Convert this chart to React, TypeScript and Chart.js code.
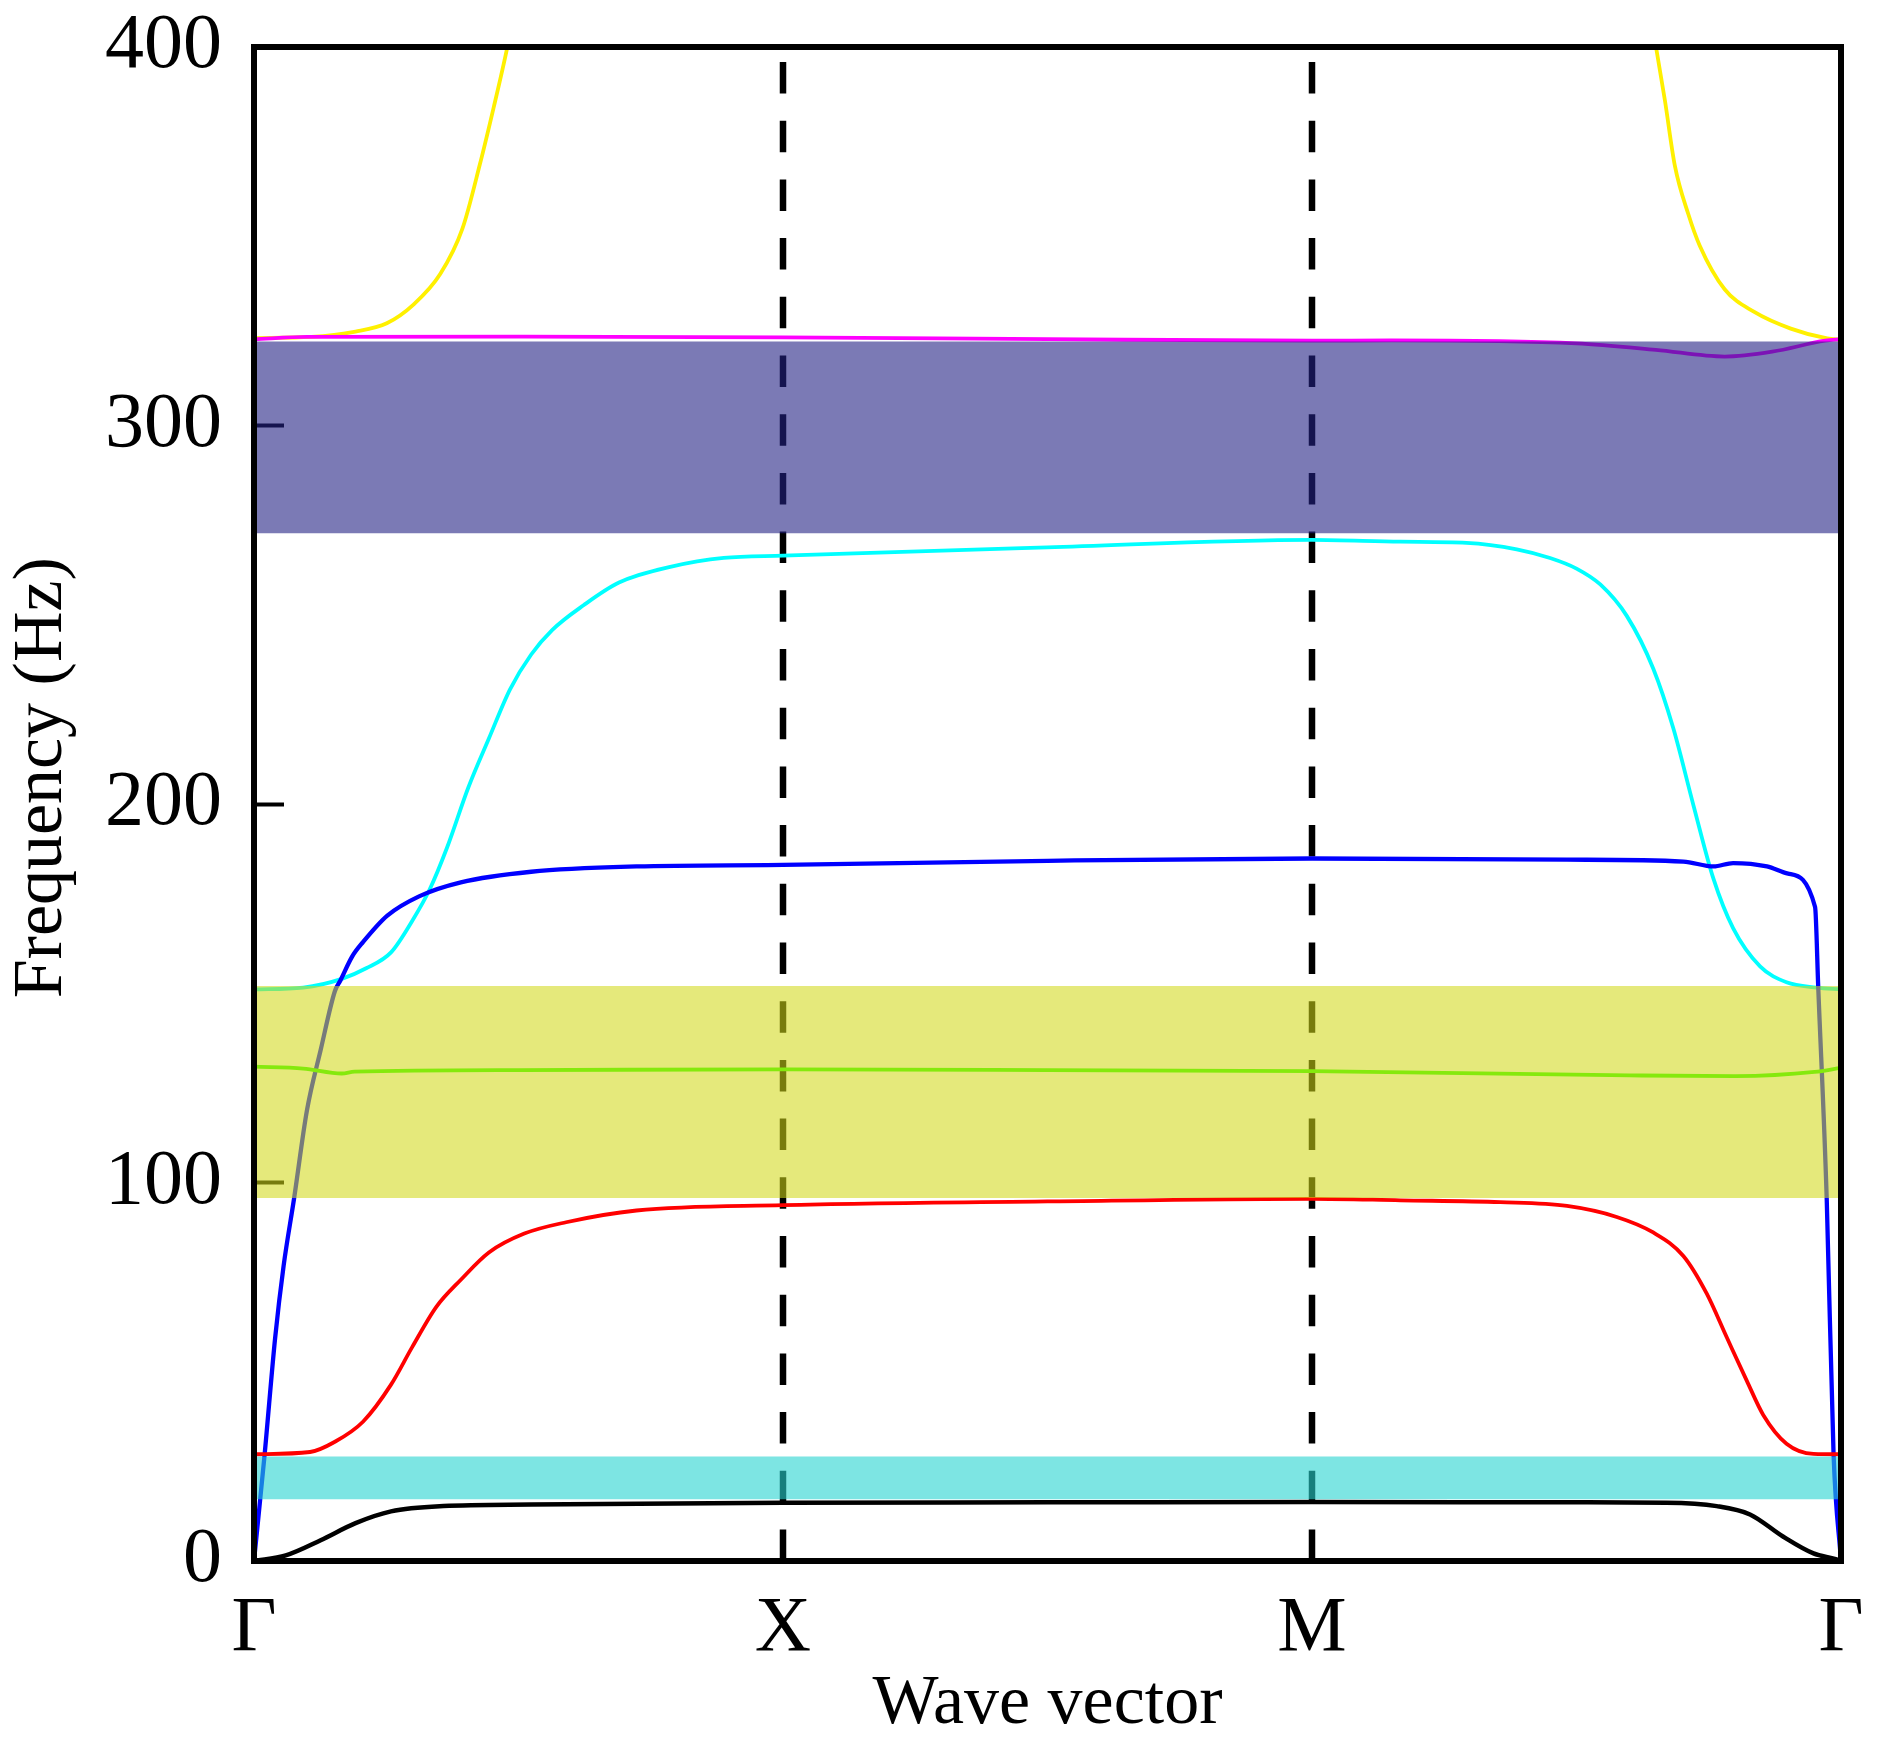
import { useEffect, useRef } from "react"
import { Chart, registerables } from "chart.js"

Chart.register(...registerables)

// high-symmetry points along the path, x = 0..3
const kTickLabels = ["Γ", "X", "M", "Γ"]
const kLines = [1, 2]

// band gaps (Hz)
const bandLow = [16.3, 95.9, 271.5]
const bandHigh = [27.6, 151.9, 322.2]
const bandColors = ["rgba(38, 212, 208, 0.6)", "rgba(210, 216, 23, 0.57)", "rgba(35, 33, 132, 0.6)"]

// dispersion branches
const kBlack = [0, 0.06, 0.126, 0.192, 0.259, 0.358, 0.524, 1.0, 1.5, 2.0, 2.5, 2.67, 2.765, 2.828, 2.891, 2.948, 2.99, 3.0]
const fBlack = [0, 1.5, 5.5, 10, 13.1, 14.5, 14.9, 15.4, 15.5, 15.6, 15.5, 15.4, 14.5, 12.3, 6.4, 2.0, 0.5, 0]

const kRed = [0, 0.106, 0.153, 0.206, 0.259, 0.299, 0.345, 0.391, 0.444, 0.511, 0.59, 0.723, 1.0, 1.5, 2.0, 2.167, 2.356, 2.482, 2.576, 2.645, 2.702, 2.746, 2.784, 2.822, 2.853, 2.897, 2.948, 3.0]
const fRed = [28.2, 28.8, 31.5, 36.8, 46.6, 56.5, 67.2, 74.3, 81.5, 86.5, 89.5, 92.6, 94.0, 95.0, 95.7, 95.3, 94.8, 93.8, 90.9, 86.8, 80.6, 70.7, 59.1, 47.6, 38.6, 31.0, 28.3, 28.2]

const kGreen = [0, 0.093, 0.166, 0.19, 0.5, 1.0, 1.5, 2.0, 2.6, 2.8, 2.95, 3.0]
const fGreen = [130.6, 130.1, 128.8, 129.3, 129.7, 129.9, 129.7, 129.4, 128.3, 128.1, 129.2, 130.3]

const kBlue = [0, 0.02, 0.04, 0.056, 0.076, 0.1, 0.126, 0.153, 0.163, 0.186, 0.206, 0.252, 0.312, 0.391, 0.524, 0.723, 1.0, 1.5, 2.0, 2.482, 2.702, 2.759, 2.796, 2.86, 2.9, 2.951, 2.957, 2.973, 2.986, 3.0]
const fBlue = [0, 28, 59, 78, 96, 119, 135, 150.6, 153.3, 159.8, 163.5, 170.5, 175.6, 179.3, 182.1, 183.5, 183.9, 185.0, 185.6, 185.3, 184.8, 183.5, 184.4, 183.5, 181.6, 172.8, 151.5, 95.7, 27.9, 0]

const kCyan = [0, 0.093, 0.166, 0.212, 0.259, 0.299, 0.332, 0.365, 0.405, 0.444, 0.484, 0.524, 0.564, 0.623, 0.69, 0.789, 0.888, 1.0, 1.5, 2.0, 2.167, 2.292, 2.387, 2.45, 2.5, 2.545, 2.595, 2.645, 2.683, 2.721, 2.759, 2.796, 2.847, 2.897, 2.954, 3.0]
const fCyan = [151.0, 151.5, 153.8, 156.6, 160.8, 169.1, 177.4, 188.5, 204.3, 217.3, 230.3, 239.5, 246.0, 252.5, 258.5, 262.7, 265.0, 265.6, 267.8, 269.8, 269.3, 269.0, 267.3, 265.0, 262.2, 258.0, 249.7, 235.8, 220.0, 199.7, 180.2, 167.2, 157.1, 152.9, 151.5, 151.0]

const kMagenta = [0, 0.1, 0.5, 1.0, 1.5, 2.0, 2.15, 2.5, 2.65, 2.78, 2.87, 2.97, 3.0]
const fMagenta = [322.8, 323.4, 323.5, 323.3, 322.8, 322.4, 322.5, 321.7, 320.0, 318.2, 319.5, 322.4, 322.8]

const kYellowL = [0, 0.108, 0.192, 0.251, 0.302, 0.352, 0.394, 0.427, 0.453, 0.478, 0.49]
const fYellowL = [323.1, 323.4, 324.8, 327, 332, 340, 352, 369, 384, 399.4, 408]
const kYellowR = [2.64, 2.651, 2.667, 2.686, 2.711, 2.733, 2.78, 2.836, 2.905, 2.974, 3.0]
const fYellowR = [408, 399.4, 386, 368.6, 356, 347.5, 336, 330, 325.6, 323, 322.7]

const pts = (k: number[], f: number[]) => k.map((x, i) => ({ x, y: f[i] }))

const framePlugin = {
  id: "frame",
  afterDatasetsDraw(chart: Chart) {
    const { ctx, chartArea: a } = chart
    ctx.save()
    ctx.strokeStyle = "#000"
    ctx.lineWidth = 6
    ctx.strokeRect(a.left, a.top, a.right - a.left, a.bottom - a.top)
    ctx.restore()
  },
}

export default function App() {
  const chartRef = useRef<HTMLCanvasElement>(null)
  const chartInstance = useRef<Chart | null>(null)

  useEffect(() => {
    if (!chartRef.current) return
    if (chartInstance.current) chartInstance.current.destroy()
    const ctx = chartRef.current.getContext("2d")
    if (!ctx) return

    const branch = (data: any, color: string, width = 3.8) => ({
      data,
      borderColor: color,
      borderWidth: width,
      pointRadius: 0,
      fill: false,
      cubicInterpolationMode: "monotone" as const,
      order: 1,
    })

    const bands = bandLow.map((lo, i) => ({
      data: pts([0, 3], [bandHigh[i], bandHigh[i]]),
      borderWidth: 0,
      pointRadius: 0,
      backgroundColor: bandColors[i],
      fill: { value: lo },
      order: 0,
    }))

    const dashed = kLines.map((k) => ({
      data: pts([k, k], [0, 400]),
      borderColor: "#000",
      borderWidth: 6.5,
      borderDash: [31.5, 27.2],
      pointRadius: 0,
      fill: false,
      order: 2,
    }))

    chartInstance.current = new Chart(ctx, {
      type: "line",
      data: {
        datasets: [
          ...bands,
          branch(pts(kBlack, fBlack), "#000000", 4.5),
          branch(pts(kRed, fRed), "#ff0000"),
          branch(pts(kGreen, fGreen), "#22ff00"),
          branch(pts(kBlue, fBlue), "#0000ff", 4.3),
          branch(pts(kCyan, fCyan), "#00ffff"),
          branch(pts(kMagenta, fMagenta), "#ff00ff"),
          branch(pts(kYellowL, fYellowL), "#fff000"),
          branch(pts(kYellowR, fYellowR), "#fff000"),
          ...dashed,
        ] as any,
      },
      options: {
        responsive: false,
        animation: false,
        layout: { padding: { left: 0, top: 47, right: 42, bottom: 0 } },
        plugins: {
          legend: { display: false },
          tooltip: { enabled: false },
        },
        scales: {
          x: {
            type: "linear",
            min: 0,
            max: 3,
            border: { display: false },
            grid: { display: false, drawTicks: false },
            afterBuildTicks: (scale: any) => {
              scale.ticks = kTickLabels.map((_, i) => ({ value: i }))
            },
            afterFit: (scale: any) => {
              scale.height = 197
              scale.paddingLeft = 0
              scale.paddingRight = 0
            },
            ticks: {
              padding: 22,
              maxRotation: 0,
              color: "#000",
              font: { family: "Liberation Serif", size: 78 },
              callback: (v: any) => kTickLabels[Math.round(Number(v))],
            },
            title: {
              display: true,
              text: "Wave vector",
              color: "#000",
              font: { family: "Liberation Serif", size: 70 },
              padding: { top: 0, bottom: 11 },
            },
          },
          y: {
            min: 0,
            max: 400,
            border: { display: false },
            grid: {
              drawOnChartArea: false,
              drawTicks: true,
              tickLength: -30,
              tickWidth: 4,
              tickColor: "#000",
            },
            afterFit: (scale: any) => {
              scale.width = 254
              scale.paddingTop = 0
              scale.paddingBottom = 0
            },
            ticks: {
              stepSize: 100,
              padding: 62,
              color: "#000",
              font: { family: "Liberation Serif", size: 78 },
            },
            title: {
              display: true,
              text: "   Frequency (Hz)",
              color: "#000",
              font: { family: "Liberation Serif", size: 70 },
              padding: { top: 1, bottom: 0 },
            },
          },
        },
      },
      plugins: [framePlugin],
    })

    return () => {
      if (chartInstance.current) {
        chartInstance.current.destroy()
        chartInstance.current = null
      }
    }
  }, [])

  return (
    <div style={{ position: "absolute", left: 0, top: 0, width: 1883, height: 1758, background: "#fff" }}>
      <canvas ref={chartRef} width={1883} height={1758} style={{ display: "block" }} />
    </div>
  )
}
